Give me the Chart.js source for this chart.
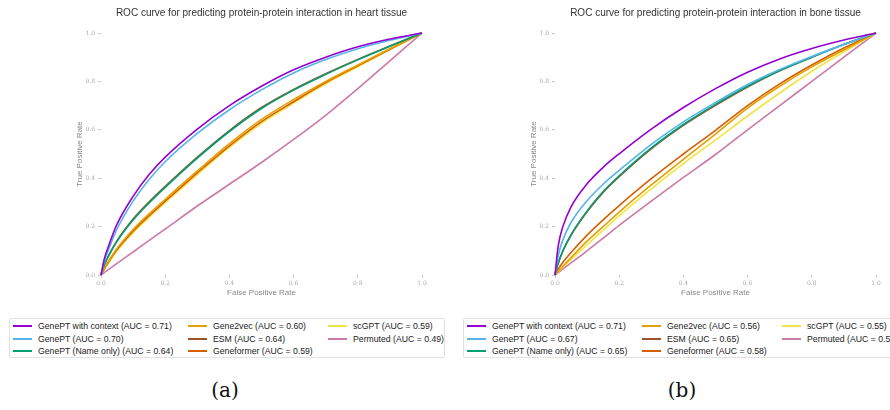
<!DOCTYPE html>
<html>
<head>
<meta charset="utf-8">
<script src="https://cdn.jsdelivr.net/npm/chart.js@4.4.0/dist/chart.umd.min.js"></script>
<style>
  body { margin: 0; background: #fff; width: 890px; height: 410px; overflow: hidden; position: relative; font-family: 'Liberation Sans', Arial, sans-serif; }
  canvas { position: absolute; top: 0; }
  .legend { position: absolute; top: 318px; width: 434px; height: 38px; border: 1px solid #e2e2e2; border-radius: 2px; }
  .item { position: absolute; height: 12px; font-size: 8.7px; color: #222; white-space: nowrap; line-height: 12px; }
  .item i { position: absolute; left: 0; top: 5px; width: 19px; height: 2px; }
  .item span { position: absolute; left: 25px; top: 0; }
  .cap { position: absolute; top: 378px; width: 60px; text-align: center; font-family: 'DejaVu Serif', 'Liberation Serif', serif; font-size: 20px; color: #111; }
</style>
</head>
<body>
<canvas id="heart" width="445" height="300" style="left:0"></canvas>
<canvas id="bone" width="445" height="300" style="left:445px"></canvas>
<div class="legend" id="legHeart" style="left:9px"></div>
<div class="legend" id="legBone" style="left:463px"></div>
<div class="cap" style="left:195px">(a)</div>
<div class="cap" style="left:652px">(b)</div>
<script>
// model names + colours (legend order)
const models = ['GenePT with context', 'GenePT', 'GenePT (Name only)', 'Gene2vec', 'ESM', 'Geneformer', 'scGPT', 'Permuted'];
const colors = ['#9400D3', '#56B4E9', '#009E73', '#E69F00', '#A0522D', '#D55E00', '#F0E442', '#CC79A7'];

const heartAuc = [0.71, 0.70, 0.64, 0.60, 0.64, 0.59, 0.59, 0.49];
const boneAuc = [0.71, 0.67, 0.65, 0.56, 0.65, 0.58, 0.55, 0.50];

// false positive rate grid shared by all curves
const fpr = [0, 0.01, 0.025, 0.05, 0.1, 0.15, 0.2, 0.3, 0.4, 0.5, 0.6, 0.7, 0.8, 0.9, 1];

// heart tissue TPR
const heartCtx     = [0, 0.065, 0.125, 0.21, 0.325, 0.415, 0.487, 0.603, 0.7, 0.78, 0.848, 0.9, 0.943, 0.975, 1];
const heartGenePT  = [0, 0.055, 0.11, 0.19, 0.305, 0.395, 0.468, 0.585, 0.683, 0.765, 0.835, 0.89, 0.935, 0.97, 1];
const heartName    = [0, 0.04, 0.082, 0.139, 0.227, 0.298, 0.362, 0.483, 0.593, 0.688, 0.764, 0.829, 0.889, 0.945, 1];
const heartG2v     = [0, 0.026, 0.06, 0.11, 0.188, 0.253, 0.313, 0.43, 0.543, 0.643, 0.725, 0.8, 0.868, 0.935, 1];
const heartEsm     = [0, 0.041, 0.084, 0.142, 0.231, 0.302, 0.366, 0.487, 0.597, 0.692, 0.767, 0.832, 0.891, 0.946, 1];
const heartGenef   = [0, 0.024, 0.057, 0.105, 0.181, 0.245, 0.305, 0.422, 0.534, 0.634, 0.716, 0.795, 0.864, 0.933, 1];
const heartScgpt   = [0, 0.022, 0.053, 0.1, 0.175, 0.239, 0.299, 0.415, 0.527, 0.627, 0.71, 0.79, 0.86, 0.932, 1];
const heartPerm    = [0, 0.01, 0.024, 0.048, 0.095, 0.143, 0.19, 0.285, 0.375, 0.465, 0.56, 0.66, 0.77, 0.885, 1];

// bone tissue TPR
const boneCtx      = [0, 0.12, 0.202, 0.282, 0.377, 0.445, 0.501, 0.603, 0.692, 0.77, 0.838, 0.893, 0.936, 0.971, 1];
const boneGenePT   = [0, 0.08, 0.147, 0.217, 0.307, 0.375, 0.432, 0.54, 0.633, 0.713, 0.787, 0.849, 0.903, 0.953, 1];
const boneName     = [0, 0.05, 0.102, 0.167, 0.265, 0.345, 0.41, 0.525, 0.622, 0.705, 0.78, 0.845, 0.9, 0.952, 1];
const boneG2v      = [0, 0.016, 0.037, 0.072, 0.14, 0.2, 0.26, 0.372, 0.478, 0.582, 0.69, 0.78, 0.86, 0.93, 1];
const boneEsm      = [0, 0.048, 0.1, 0.164, 0.261, 0.341, 0.406, 0.521, 0.618, 0.701, 0.777, 0.844, 0.9, 0.953, 1];
const boneGenef    = [0, 0.024, 0.053, 0.093, 0.165, 0.228, 0.287, 0.398, 0.5, 0.598, 0.7, 0.79, 0.868, 0.938, 1];
const boneScgpt    = [0, 0.014, 0.033, 0.064, 0.125, 0.185, 0.245, 0.356, 0.46, 0.558, 0.657, 0.752, 0.842, 0.922, 1];
const bonePerm     = [0, 0.01, 0.025, 0.05, 0.1, 0.152, 0.205, 0.305, 0.403, 0.498, 0.6, 0.7, 0.8, 0.9, 1];

const heartTpr = [heartCtx, heartGenePT, heartName, heartG2v, heartEsm, heartGenef, heartScgpt, heartPerm];
const boneTpr = [boneCtx, boneGenePT, boneName, boneG2v, boneEsm, boneGenef, boneScgpt, bonePerm];

const tickFont = { family: 'DejaVu Serif', size: 6 };
const axisTitleFont = { family: 'Liberation Sans', size: 8 };

function label(i, auc) {
  return `${models[i]} (AUC = ${auc[i].toFixed(2)})`;
}

function makeChart(id, title, tprs, auc, padLeft, padRight) {
  const datasets = tprs.map((tpr, i) => ({
    label: label(i, auc),
    data: tpr.map((y, k) => ({ x: fpr[k], y })),
    borderColor: colors[i],
    borderWidth: 1.6,
    pointRadius: 0,
    cubicInterpolationMode: 'monotone',
    fill: false,
  }));
  return new Chart(document.getElementById(id), {
    type: 'line',
    data: { datasets },
    options: {
      responsive: false,
      animation: false,
      clip: false,
      layout: { padding: { left: padLeft, right: padRight, top: 0, bottom: 0 } },
      plugins: {
        legend: { display: false },
        tooltip: { enabled: false },
        title: {
          display: true, text: title, fullSize: false, color: '#333',
          font: { family: 'Liberation Sans', size: 10, weight: 'normal' },
          padding: { top: 7, bottom: 14 },
        },
      },
      scales: {
        x: {
          type: 'linear', min: 0, max: 1,
          afterFit: s => { s.height = 25; },
          border: { display: false },
          grid: { drawOnChartArea: false, drawTicks: true, tickLength: 3, color: '#c8c8c8' },
          ticks: { stepSize: 0.2, padding: 2, color: '#aaa', font: tickFont, maxRotation: 0, callback: v => v.toFixed(1) },
          title: { display: true, text: 'False Positive Rate', color: '#888', font: axisTitleFont, padding: { top: 2, bottom: 2 } },
        },
        y: {
          type: 'linear', min: 0, max: 1,
          afterFit: s => { s.width = 26; },
          border: { display: false },
          grid: { drawOnChartArea: false, drawTicks: true, tickLength: 3, color: '#c8c8c8' },
          ticks: { stepSize: 0.2, padding: 3, color: '#aaa', font: tickFont, callback: v => v.toFixed(1) },
          title: { display: true, text: 'True Positive Rate', color: '#888', font: axisTitleFont, padding: { top: 0, bottom: 0 } },
        },
      },
    },
  });
}

function makeLegend(id, auc) {
  const box = document.getElementById(id);
  models.forEach((m, i) => {
    const col = Math.floor(i / 3), row = i % 3;
    const el = document.createElement('div');
    el.className = 'item';
    el.style.left = [3, 178, 318][col] + 'px';
    el.style.top = (1 + row * 12.6) + 'px';
    el.innerHTML = `<i style="background:${colors[i]}"></i><span>${label(i, auc)}</span>`;
    box.appendChild(el);
  });
}

makeChart('heart', 'ROC curve for predicting protein-protein interaction in heart tissue', heartTpr, heartAuc, 75, 23);
makeChart('bone', 'ROC curve for predicting protein-protein interaction in bone tissue', boneTpr, boneAuc, 84, 14);
makeLegend('legHeart', heartAuc);
makeLegend('legBone', boneAuc);
</script>
</body>
</html>
